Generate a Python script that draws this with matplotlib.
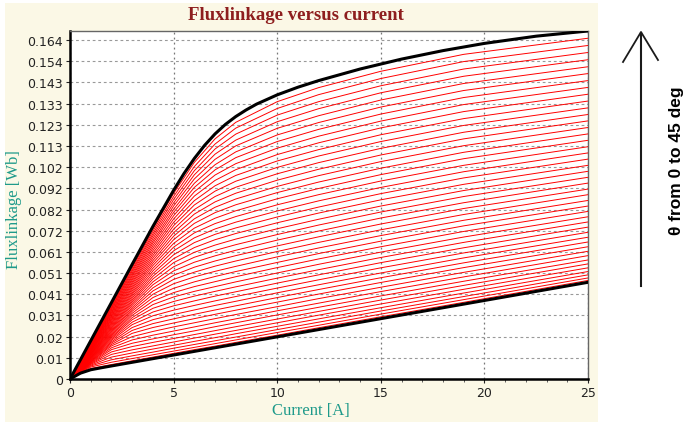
import numpy as np
import matplotlib
matplotlib.use("Agg")
import matplotlib.pyplot as plt
from matplotlib.patches import Rectangle
from matplotlib.lines import Line2D

# Flux linkage [mWb] of the phase winding for rotor positions between the
# unaligned (0 deg) and aligned (45 deg) positions.
current_A = [0, 1, 2, 3, 4, 5, 6, 7, 8, 10, 12, 15, 19, 25]
theta_deg = list(range(1, 45))
flux_mWb = [
    [0, 5.1, 7.0, 8.8, 10.6, 12.4, 14.2, 15.9, 17.7, 21.2, 24.8, 30.1, 37.1, 47.7],
    [0, 5.8, 8.1, 9.9, 11.7, 13.5, 15.3, 17.1, 18.9, 22.5, 26.0, 31.4, 38.4, 48.9],
    [0, 6.3, 9.3, 11.2, 13.0, 14.9, 16.7, 18.5, 20.3, 23.9, 27.5, 32.9, 39.9, 50.4],
    [0, 6.7, 10.6, 12.6, 14.5, 16.3, 18.2, 20.0, 21.9, 25.5, 29.1, 34.5, 41.6, 52.0],
    [0, 7.1, 11.9, 14.1, 16.0, 17.9, 19.8, 21.7, 23.5, 27.2, 30.9, 36.3, 43.4, 53.8],
    [0, 7.4, 13.1, 15.7, 17.7, 19.6, 21.5, 23.4, 25.3, 29.0, 32.7, 38.2, 45.3, 55.7],
    [0, 7.7, 14.2, 17.3, 19.4, 21.4, 23.3, 25.3, 27.2, 31.0, 34.7, 40.2, 47.3, 57.6],
    [0, 8.0, 15.1, 18.9, 21.2, 23.2, 25.2, 27.2, 29.1, 33.0, 36.7, 42.3, 49.4, 59.7],
    [0, 8.3, 16.0, 20.5, 23.0, 25.2, 27.2, 29.2, 31.2, 35.0, 38.9, 44.4, 51.6, 61.8],
    [0, 8.5, 16.7, 22.1, 24.9, 27.1, 29.2, 31.3, 33.3, 37.2, 41.1, 46.7, 53.9, 64.0],
    [0, 8.8, 17.4, 23.5, 26.8, 29.1, 31.3, 33.4, 35.4, 39.4, 43.3, 49.0, 56.2, 66.3],
    [0, 9.1, 18.0, 24.9, 28.7, 31.2, 33.4, 35.6, 37.6, 41.7, 45.6, 51.3, 58.6, 68.6],
    [0, 9.4, 18.7, 26.3, 30.6, 33.3, 35.6, 37.8, 39.9, 44.0, 48.0, 53.8, 61.0, 71.0],
    [0, 9.7, 19.3, 27.5, 32.4, 35.4, 37.8, 40.1, 42.2, 46.4, 50.4, 56.3, 63.5, 73.5],
    [0, 10.0, 19.9, 28.7, 34.2, 37.5, 40.1, 42.4, 44.6, 48.8, 52.9, 58.8, 66.1, 76.0],
    [0, 10.3, 20.4, 29.7, 36.0, 39.7, 42.4, 44.7, 47.0, 51.3, 55.5, 61.4, 68.7, 78.5],
    [0, 10.5, 21.0, 30.8, 37.7, 41.8, 44.7, 47.1, 49.5, 53.9, 58.1, 64.0, 71.4, 81.1],
    [0, 10.8, 21.6, 31.8, 39.4, 43.9, 47.0, 49.6, 52.0, 56.4, 60.7, 66.7, 74.1, 83.7],
    [0, 11.1, 22.2, 32.8, 41.0, 46.1, 49.4, 52.1, 54.5, 59.1, 63.4, 69.4, 76.8, 86.4],
    [0, 11.4, 22.8, 33.7, 42.6, 48.2, 51.7, 54.6, 57.1, 61.7, 66.1, 72.2, 79.6, 89.2],
    [0, 11.7, 23.3, 34.6, 44.1, 50.2, 54.1, 57.1, 59.7, 64.4, 68.8, 75.0, 82.5, 91.9],
    [0, 12.0, 23.9, 35.6, 45.6, 52.3, 56.5, 59.6, 62.3, 67.2, 71.6, 77.9, 85.3, 94.8],
    [0, 12.2, 24.5, 36.5, 47.0, 54.3, 58.9, 62.2, 65.0, 69.9, 74.5, 80.8, 88.3, 97.6],
    [0, 12.5, 25.0, 37.4, 48.4, 56.3, 61.3, 64.8, 67.7, 72.7, 77.3, 83.7, 91.2, 100.5],
    [0, 12.8, 25.6, 38.2, 49.7, 58.2, 63.6, 67.4, 70.4, 75.6, 80.3, 86.7, 94.2, 103.4],
    [0, 13.1, 26.2, 39.1, 51.0, 60.1, 66.0, 70.0, 73.1, 78.4, 83.2, 89.7, 97.3, 106.4],
    [0, 13.4, 26.8, 40.0, 52.3, 62.0, 68.3, 72.6, 75.9, 81.3, 86.2, 92.7, 100.3, 109.4],
    [0, 13.7, 27.3, 40.9, 53.6, 63.8, 70.7, 75.2, 78.6, 84.3, 89.2, 95.8, 103.4, 112.4],
    [0, 13.9, 27.9, 41.7, 54.9, 65.6, 73.0, 77.8, 81.4, 87.2, 92.2, 98.9, 106.6, 115.5],
    [0, 14.2, 28.5, 42.6, 56.1, 67.4, 75.3, 80.5, 84.3, 90.2, 95.3, 102.0, 109.7, 118.6],
    [0, 14.5, 29.0, 43.5, 57.3, 69.1, 77.5, 83.1, 87.1, 93.2, 98.4, 105.2, 112.9, 121.7],
    [0, 14.8, 29.6, 44.3, 58.5, 70.8, 79.8, 85.7, 89.9, 96.2, 101.5, 108.4, 116.2, 124.9],
    [0, 15.1, 30.2, 45.2, 59.7, 72.5, 82.0, 88.3, 92.8, 99.3, 104.7, 111.6, 119.4, 128.0],
    [0, 15.4, 30.7, 46.1, 60.9, 74.2, 84.2, 90.9, 95.7, 102.4, 107.9, 114.9, 122.7, 131.2],
    [0, 15.7, 31.3, 46.9, 62.1, 75.8, 86.3, 93.5, 98.5, 105.5, 111.0, 118.2, 126.0, 134.5],
    [0, 15.9, 31.9, 47.8, 63.3, 77.4, 88.5, 96.1, 101.3, 108.6, 114.3, 121.5, 129.4, 137.8],
    [0, 16.2, 32.4, 48.6, 64.5, 79.0, 90.6, 98.7, 104.2, 111.7, 117.5, 124.8, 132.8, 141.1],
    [0, 16.5, 33.0, 49.5, 65.7, 80.6, 92.7, 101.2, 107.1, 114.9, 120.8, 128.2, 136.2, 144.4],
    [0, 16.8, 33.6, 50.3, 66.8, 82.1, 94.7, 103.7, 109.9, 118.1, 124.1, 131.6, 139.6, 147.8],
    [0, 17.1, 34.2, 51.2, 68.0, 83.7, 96.8, 106.3, 112.8, 121.3, 127.4, 135.0, 143.0, 151.1],
    [0, 17.4, 34.7, 52.1, 69.2, 85.2, 98.8, 108.8, 115.6, 124.5, 130.8, 138.5, 146.5, 154.5],
    [0, 17.6, 35.3, 52.9, 70.3, 86.8, 100.8, 111.3, 118.5, 127.7, 134.2, 141.9, 150.0, 158.0],
    [0, 17.9, 35.9, 53.8, 71.5, 88.3, 102.8, 113.7, 121.4, 130.9, 137.6, 145.4, 153.6, 161.4],
    [0, 18.2, 36.4, 54.6, 72.6, 89.8, 104.8, 116.2, 124.2, 134.2, 141.0, 148.9, 157.1, 164.9],
]

# Aligned (45 deg) and unaligned (0 deg) limit curves
aligned_current_A = [0, 1, 2, 3, 4, 5, 5.5, 6, 6.5, 7, 7.5, 8, 8.5, 9, 10, 11, 12,
                     14, 16, 18, 20, 22.5, 25]
aligned_flux_mWb = [0, 18.5, 37.0, 55.5, 73.8, 91.3, 99.4, 106.7, 113.1, 118.6, 123.2,
                    127.0, 130.2, 133.0, 137.5, 141.2, 144.4, 150.0, 154.8, 158.9,
                    162.4, 165.9, 168.4]
unaligned_current_A = [0, 0.5, 1, 1.5, 2, 3, 5, 8, 12, 16, 20, 25]
unaligned_flux_mWb = [0, 2.81, 4.47, 5.42, 6.31, 8.08, 11.60, 16.88, 23.92, 30.96,
                      38.00, 46.80]

xtick_values = [0, 5, 10, 15, 20, 25]
ytick_values = [0, 0.01025, 0.0205, 0.03075, 0.041, 0.05125, 0.0615, 0.07175, 0.082,
                0.09225, 0.1025, 0.11275, 0.123, 0.13325, 0.1435, 0.15375, 0.164]
ytick_labels = ["0", "0.01", "0.02", "0.031", "0.041", "0.051", "0.061", "0.072", "0.082",
                "0.092", "0.102", "0.113", "0.123", "0.133", "0.143", "0.154", "0.164"]

W, H = 684, 427
fig = plt.figure(figsize=(W / 100, H / 100), dpi=100)
fig.patch.set_facecolor("white")
fig.patches.append(Rectangle((5 / W, 4 / H), 593 / W, 419 / H, transform=fig.transFigure,
                             facecolor="#FBF8E6", edgecolor="none", zorder=-5))

ax = fig.add_axes([70 / W, (H - 380) / H, 518 / W, 348 / H])
ax.set_facecolor("white")
cur = np.array(current_A, dtype=float)
for row in flux_mWb:
    ax.plot(cur, np.array(row) / 1000, color="red", lw=0.7, zorder=3)
ax.plot(aligned_current_A, np.array(aligned_flux_mWb) / 1000, color="black", lw=2.2, zorder=4)
ax.plot(unaligned_current_A, np.array(unaligned_flux_mWb) / 1000, color="black", lw=2.2, zorder=4)

ax.set_xlim(0, 25)
ax.set_ylim(0, max(aligned_flux_mWb) / 1000)
ax.set_yticks(ytick_values)
ax.set_yticklabels(ytick_labels)
ax.set_xticks(xtick_values)
ax.set_xticks(np.arange(0, 26, 1), minor=True)
ax.tick_params(axis="both", which="major", direction="out", length=3, width=0.8,
               labelsize=9, colors="#222222", pad=2)
ax.tick_params(axis="x", which="minor", direction="out", length=2, width=0.6, colors="#444444")
ax.tick_params(axis="y", which="minor", left=False)
ax.grid(True, which="major", axis="y", color="#999999", linestyle=(0, (2.5, 2.5)), lw=0.8, zorder=1)
ax.grid(True, which="major", axis="x", color="#777777", linestyle=(0, (1.5, 2.5)), lw=0.9, zorder=1)
ax.set_axisbelow(True)
for side in ("left", "bottom"):
    ax.spines[side].set_color("black")
    ax.spines[side].set_linewidth(1.8)
for side in ("top", "right"):
    ax.spines[side].set_color("#666666")
    ax.spines[side].set_linewidth(1.0)

fig.text(296 / W, 1 - 15 / H, "Fluxlinkage versus current", ha="center", va="center",
         fontsize=13.5, fontweight="bold", family="Liberation Serif", color="#8E1E1E")
fig.text(311 / W, 1 - 411 / H, "Current [A]", ha="center", va="center",
         fontsize=12, family="Liberation Serif", color="#1E9A8A")
fig.text(14 / W, 1 - 210 / H, "Fluxlinkage [Wb]", ha="center", va="center", rotation=90,
         fontsize=12, family="Liberation Serif", color="#1E9A8A")

# Direction arrow for increasing rotor angle
arrow_x = 641
fig.add_artist(Line2D([arrow_x / W, arrow_x / W], [1 - 287 / H, 1 - 34 / H],
                      transform=fig.transFigure, color="#1a1a1a", lw=1.5))
fig.add_artist(Line2D([623 / W, arrow_x / W, 658 / W], [1 - 63 / H, 1 - 33 / H, 1 - 61 / H],
                      transform=fig.transFigure, color="#1a1a1a", lw=1.3))
fig.text(676 / W, 1 - 161 / H, "θ from 0 to 45 deg", rotation=90, ha="center", va="center",
         fontsize=12.5, fontweight="bold", family="Liberation Sans", color="black")

fig.savefig("out.png", dpi=100)
